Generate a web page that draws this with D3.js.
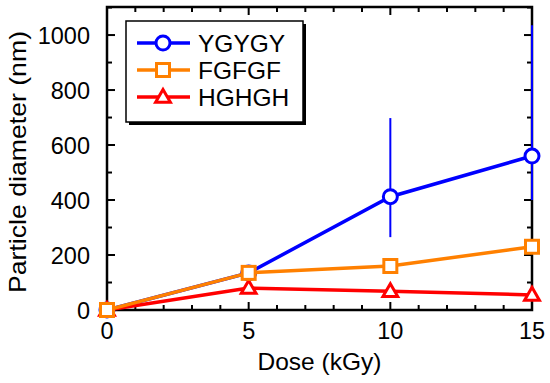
<!DOCTYPE html>
<meta charset="utf-8">
<style>
    body { margin: 0; background: #fff; }
    svg text { font-family: "Liberation Sans", Arial, sans-serif; fill: #000; }
</style>
<svg width="550" height="383"></svg>
<script src="https://d3js.org/d3.v7.min.js"></script>
<script>
    // values
    var doses = [0, 5, 10, 15];
    var ygygy = [0, 135, 412, 560];
    var ygygyHi = [0, 0, 698, 1036];
    var ygygyLo = [0, 0, 265, 400];
    var fgfgf = [0, 135, 160, 230];
    var hghgh = [0, 80, 68, 55];
    var xTicks = [0, 5, 10, 15];
    var yTicks = [0, 200, 400, 600, 800, 1000];
    var seriesNames = ["YGYGY", "FGFGF", "HGHGH"];

    var svg = d3.select("svg"),
        margin = {top: 7, left: 107, bottom: 73, right: 18},
        width = +svg.attr("width") - margin.left - margin.right,
        height = +svg.attr("height") - margin.top - margin.bottom;

    var x = d3.scaleLinear().domain([0, 15]).range([0, width]);
    var y = d3.scaleLinear().domain([0, 1102]).range([height, 0]);

    var g = svg.append("g")
        .attr("transform", "translate(" + margin.left + "," + margin.top + ")");

    var minorX = d3.range(0, 16, 1), minorY = d3.range(0, 1101, 100);

    // ticks, pointing inward on every side
    function tickSet(vals, major, isX) {
        vals.forEach(function (v) {
            var len = (v % major === 0) ? 8 : 5;
            if (isX) {
                g.append("line").attr("x1", x(v)).attr("x2", x(v)).attr("y1", height).attr("y2", height - len);
                g.append("line").attr("x1", x(v)).attr("x2", x(v)).attr("y1", 0).attr("y2", len);
            } else {
                g.append("line").attr("y1", y(v)).attr("y2", y(v)).attr("x1", 0).attr("x2", len);
                g.append("line").attr("y1", y(v)).attr("y2", y(v)).attr("x1", width).attr("x2", width - len);
            }
        });
    }
    tickSet(minorX, 5, true);
    tickSet(minorY, 200, false);
    g.selectAll("line").attr("stroke", "#000").attr("stroke-width", 2);

    g.append("rect").attr("width", width).attr("height", height)
        .attr("fill", "none").attr("stroke", "#000").attr("stroke-width", 2.5);

    g.selectAll(".xl").data(xTicks).enter().append("text")
        .attr("x", function (d) { return x(d); }).attr("y", height + 29)
        .attr("text-anchor", "middle").attr("font-size", 23.5).text(function (d) { return d; });
    g.selectAll(".yl").data(yTicks).enter().append("text")
        .attr("x", -17).attr("y", function (d) { return y(d) + 8.5; })
        .attr("text-anchor", "end").attr("font-size", 23.5).text(function (d) { return d; });

    svg.append("text").attr("x", margin.left + width / 2).attr("y", 370)
        .attr("text-anchor", "middle").attr("font-size", 24.5).text("Dose (kGy)");
    svg.append("text").attr("transform", "translate(26,162) rotate(-90)")
        .attr("text-anchor", "middle").attr("font-size", 24.5)
        .attr("textLength", 262).attr("lengthAdjust", "spacingAndGlyphs")
        .text("Particle diameter (nm)");

    var line = d3.line().x(function (d, i) { return x(doses[i]); }).y(function (d) { return y(d); });

    // error bars of YGYGY
    doses.forEach(function (d, i) {
        if (ygygyHi[i] > 0) {
            g.append("line").attr("x1", x(d)).attr("x2", x(d))
                .attr("y1", y(ygygyHi[i])).attr("y2", y(ygygyLo[i]))
                .attr("stroke", "#0000ff").attr("stroke-width", 2);
        }
    });

    var tri = d3.symbol().type(d3.symbolTriangle).size(95);

    function drawMarker(sel, kind, color) {
        if (kind === 0) {
            sel.append("circle").attr("r", 7).attr("fill", "#fff")
                .attr("stroke", color).attr("stroke-width", 3);
        } else if (kind === 1) {
            sel.append("rect").attr("x", -6.5).attr("y", -6.5).attr("width", 13).attr("height", 13)
                .attr("fill", "#fff").attr("stroke", color).attr("stroke-width", 3);
        } else {
            sel.append("path").attr("d", tri).attr("transform", "translate(0,1)")
                .attr("fill", "#fff").attr("stroke", color).attr("stroke-width", 3);
        }
    }

    var series = [
        {vals: ygygy, color: "#0000ff", kind: 0},
        {vals: hghgh, color: "#ff0000", kind: 2},
        {vals: fgfgf, color: "#ff8000", kind: 1}
    ];

    series.forEach(function (s) {
        g.append("path").datum(s.vals).attr("d", line)
            .attr("fill", "none").attr("stroke", s.color).attr("stroke-width", 3.5);
        s.vals.forEach(function (v, i) {
            var m = g.append("g").attr("transform", "translate(" + x(doses[i]) + "," + y(v) + ")");
            drawMarker(m, s.kind, s.color);
        });
    });

    // legend
    var lg = svg.append("g").attr("transform", "translate(126,21)");
    lg.append("rect").attr("x", 3).attr("y", 3).attr("width", 177).attr("height", 101).attr("fill", "#000");
    lg.append("rect").attr("width", 177).attr("height", 101)
        .attr("fill", "#fff").attr("stroke", "#000").attr("stroke-width", 1.5);
    var legColors = ["#0000ff", "#ff8000", "#ff0000"];
    var legKinds = [0, 1, 2];
    seriesNames.forEach(function (n, i) {
        var yy = 22 + i * 27;
        lg.append("line").attr("x1", 11).attr("x2", 64).attr("y1", yy).attr("y2", yy)
            .attr("stroke", legColors[i]).attr("stroke-width", 3.5);
        var m = lg.append("g").attr("transform", "translate(37," + yy + ")");
        drawMarker(m, legKinds[i], legColors[i]);
        lg.append("text").attr("x", 72).attr("y", yy + 8.5).attr("font-size", 24.5).text(n);
    });
</script>
